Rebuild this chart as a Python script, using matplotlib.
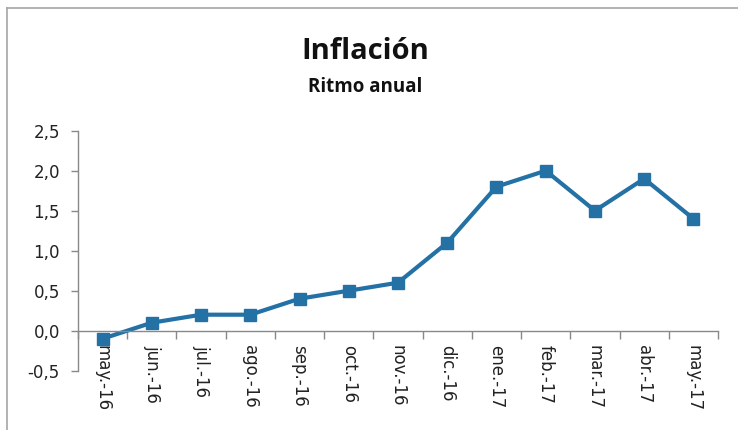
import matplotlib
matplotlib.use("Agg")
import matplotlib.pyplot as plt
from matplotlib.lines import Line2D
from matplotlib.ticker import FuncFormatter

# datos
meses = ["may.-16", "jun.-16", "jul.-16", "ago.-16", "sep.-16", "oct.-16", "nov.-16",
         "dic.-16", "ene.-17", "feb.-17", "mar.-17", "abr.-17", "may.-17"]
ritmo_anual = [-0.1, 0.1, 0.2, 0.2, 0.4, 0.5, 0.6, 1.1, 1.8, 2.0, 1.5, 1.9, 1.4]
y_ticks = [-0.5, 0.0, 0.5, 1.0, 1.5, 2.0, 2.5]

color_serie = "#2471A6"
color_eje = "#898989"

fig = plt.figure(figsize=(7.38, 4.30), dpi=100)
ax = fig.add_axes([78 / 738, 1 - 370.7 / 430, (718 - 78) / 738, (370.7 - 130.7) / 430])

x = list(range(len(meses)))
ax.plot(x, ritmo_anual, color=color_serie, linewidth=3, marker="s",
        markersize=8.5, markerfacecolor=color_serie, markeredgecolor=color_serie)

ax.set_xlim(-0.5, len(meses) - 0.5)
ax.set_ylim(-0.5, 2.5)
ax.set_yticks(y_ticks)
ax.yaxis.set_major_formatter(FuncFormatter(lambda v, p: f"{v:.1f}".replace(".", ",")))

# etiquetas en cada categoria, marcas en los limites
ax.set_xticks(x)
ax.set_xticklabels(meses)
ax.set_xticks([i - 0.5 for i in range(len(meses) + 1)], minor=True)
ax.tick_params(axis="x", which="major", length=0, pad=10, labelsize=12,
               labelcolor="#222222", labelrotation=270)
ax.tick_params(axis="x", which="minor", length=6, width=1, color=color_eje, direction="out")
ax.tick_params(axis="y", length=5, width=1, color=color_eje, pad=8, labelsize=12,
               labelcolor="#222222")
for lbl in ax.get_xticklabels():
    lbl.set_horizontalalignment("center")
    lbl.set_verticalalignment("top")

for s in ["top", "right"]:
    ax.spines[s].set_visible(False)
ax.spines["bottom"].set_position(("data", 0))
ax.spines["bottom"].set_color(color_eje)
ax.spines["left"].set_color(color_eje)
ax.spines["bottom"].set_linewidth(1)
ax.spines["left"].set_linewidth(1)

fig.text(365 / 738, 1 - 59 / 430, "Inflación", ha="center", va="baseline",
         fontsize=21, fontweight="bold", family="Open Sans", color="#111111")
fig.text(365 / 738, 1 - 92 / 430, "Ritmo anual", ha="center", va="baseline",
         fontsize=13.5, fontweight="bold", family="Open Sans", color="#111111")

# borde del grafico
fig.add_artist(Line2D([7 / 738, 7 / 738], [0, 1 - 8 / 430], transform=fig.transFigure,
                      color="#A6A6A6", linewidth=1.2))
fig.add_artist(Line2D([7 / 738, 1], [1 - 8 / 430, 1 - 8 / 430], transform=fig.transFigure,
                      color="#A6A6A6", linewidth=1.2))

fig.savefig("out.png", dpi=100)
